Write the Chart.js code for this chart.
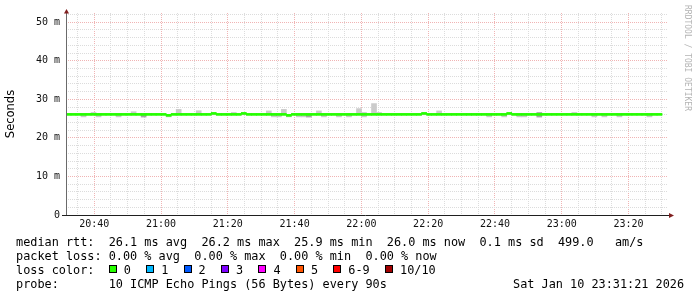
<!DOCTYPE html>
<html>
<head>
<meta charset="utf-8">
<script src="https://cdn.jsdelivr.net/npm/chart.js@4"></script>
<style>
  html, body { margin: 0; padding: 0; background: #fff; }
  #wrap { position: relative; width: 697px; height: 297px; overflow: hidden; }
  #chart { position: absolute; left: 0; top: 0; }
  #legend { position: absolute; left: 16px; top: 234.5px; width: 681px;
    font: 11.85px "DejaVu Sans Mono", monospace; line-height: 14px; color: #000; }
  .row { position: relative; height: 14px; display: flex; align-items: center; white-space: pre; }
  .box { display: inline-block; width: 6px; height: 6px; border: 1px solid #000; margin-right: 7px; position: relative; top: -1px; }
  .item { display: inline-flex; align-items: center; margin-right: 15.3px; }
  #date { position: absolute; left: 497px; top: 0; }
</style>
</head>
<body>
<div id="wrap">
  <canvas id="chart" width="697" height="297"></canvas>
  <div id="legend"><div class="row" id="rtt"></div><div class="row" id="loss"></div><div class="row" id="colors"></div><div class="row" id="probe"></div></div>
</div>
<script>
// time axis: 90 s steps from about 20:31:30, minutes since 20:00
const startMin = 31.53;
const stepMin = 1.5;
const spanMin = 180.3;

const timeMinutes = [40, 60, 80, 100, 120, 140, 160, 180, 200];
const timeLabels = ["20:40", "21:00", "21:20", "21:40", "22:00", "22:20", "22:40", "23:00", "23:20"];
const yValues = [0, 10, 20, 30, 40, 50];
const yLabels = ["0", "10 m", "20 m", "30 m", "40 m", "50 m"];

// median rtt per sample (ms)
const median = [
  26.1, 26.1, 26.1, 26.1, 26.1, 26.1, 26.1, 26.1, 26.1, 26.1,
  26.1, 26.1, 26.1, 26.1, 26.1, 26.1, 26.1, 26.1, 26.1, 26.1,
  25.85, 26.1, 26.1, 26.1, 26.1, 26.1, 26.1, 26.1, 26.1, 26.35,
  26.1, 26.1, 26.1, 26.1, 26.1, 26.35, 26.1, 26.1, 26.1, 26.1,
  26.1, 26.1, 26.1, 26.1, 25.85, 26.1, 26.1, 26.1, 26.1, 26.1,
  26.1, 26.1, 26.1, 26.1, 26.1, 26.1, 26.1, 26.1, 26.1, 26.1,
  26.1, 26.1, 26.1, 26.1, 26.1, 26.1, 26.1, 26.1, 26.1, 26.1,
  26.1, 26.35, 26.1, 26.1, 26.1, 26.1, 26.1, 26.1, 26.1, 26.1,
  26.1, 26.1, 26.1, 26.1, 26.1, 26.1, 26.1, 26.1, 26.35, 26.1,
  26.1, 26.1, 26.1, 26.1, 26.1, 26.1, 26.1, 26.1, 26.1, 26.1,
  26.1, 26.1, 26.1, 26.1, 26.1, 26.1, 26.1, 26.1, 26.1, 26.1,
  26.1, 26.1, 26.1, 26.1, 26.1, 26.1, 26.1, 26.1, 26.1
];
// smoke: fastest and slowest ping per sample (ms)
const smokeHi = [
  26.2, 26.2, 26.2, 26.2, 26.2, 26.6, 26.2, 26.2, 26.2, 26.2,
  26.2, 26.2, 26.2, 26.8, 26.2, 26.2, 26.2, 26.2, 26.2, 26.2,
  26.0, 26.2, 27.4, 26.2, 26.2, 26.2, 27.05, 26.2, 26.2, 26.5,
  26.2, 26.2, 26.2, 26.6, 26.2, 26.5, 26.2, 26.2, 26.2, 26.2,
  27.0, 26.2, 26.2, 27.4, 26.0, 26.2, 26.2, 26.2, 26.2, 26.2,
  27.0, 26.2, 26.2, 26.2, 26.2, 26.2, 26.2, 26.2, 27.6, 26.6,
  26.2, 28.9, 26.6, 26.2, 26.2, 26.2, 26.2, 26.2, 26.2, 26.2,
  26.2, 26.5, 26.2, 26.2, 27.0, 26.2, 26.2, 26.2, 26.2, 26.2,
  26.2, 26.2, 26.2, 26.2, 26.2, 26.2, 26.2, 26.2, 26.5, 26.2,
  26.2, 26.2, 26.2, 26.2, 26.6, 26.2, 26.2, 26.2, 26.2, 26.2,
  26.2, 26.6, 26.2, 26.2, 26.2, 26.2, 26.2, 26.2, 26.2, 26.2,
  26.2, 26.2, 26.2, 26.2, 26.2, 26.2, 26.2, 26.2, 26.2
];
const smokeLo = [
  26.0, 26.0, 26.0, 25.45, 26.0, 26.0, 25.45, 26.0, 26.0, 26.0,
  25.45, 26.0, 26.0, 26.0, 26.0, 25.4, 26.0, 26.0, 26.0, 26.0,
  25.45, 26.0, 26.0, 26.0, 26.0, 26.0, 26.0, 26.0, 26.0, 26.0,
  26.0, 26.0, 26.0, 26.0, 26.0, 26.0, 26.0, 26.0, 26.0, 26.0,
  26.0, 25.45, 25.45, 26.0, 25.45, 26.0, 25.45, 25.45, 25.4, 26.0,
  26.0, 25.45, 26.0, 26.0, 25.45, 26.0, 25.45, 26.0, 26.0, 25.45,
  26.0, 26.0, 26.0, 26.0, 26.0, 26.0, 26.0, 26.0, 26.0, 26.0,
  26.0, 26.0, 26.0, 26.0, 26.0, 26.0, 26.0, 26.0, 26.0, 26.0,
  26.0, 26.0, 26.0, 26.0, 25.45, 26.0, 26.0, 25.45, 26.0, 26.0,
  25.45, 25.45, 26.0, 26.0, 25.4, 26.0, 26.0, 26.0, 26.0, 26.0,
  26.0, 26.0, 26.0, 26.0, 26.0, 25.45, 26.0, 25.45, 26.0, 26.0,
  25.45, 26.0, 26.0, 26.0, 26.0, 26.0, 25.45, 26.0, 26.0
];
// samples where the smoke is denser (darker grey)
const denseSmoke = [15, 48, 94];

const lossLabels = ["0", "1", "2", "3", "4", "5", "6-9", "10/10"];
const lossColors = ["#26ff00", "#00b8ff", "#0059ff", "#7e00ff", "#ff00ff", "#ff5500", "#ff0000", "#a10000"];

const rttText = "median rtt:  26.1 ms avg  26.2 ms max  25.9 ms min  26.0 ms now  0.1 ms sd  499.0   am/s";
const lossText = "packet loss: 0.00 % avg  0.00 % max  0.00 % min  0.00 % now";
const probeText = "probe:       10 ICMP Echo Pings (56 Bytes) every 90s";
const dateText = "Sat Jan 10 23:31:21 2026";

const sampleX = median.map((_, i) => startMin + stepMin * (i + 0.5));
const gridMinutes = [];
for (let m = 35; m < startMin + spanMin; m += 5) gridMinutes.push(m);
const gridMs = [];
for (let v = 0; v <= 52; v += 2) gridMs.push(v);

const minorGrid = "#dcdcdc";
const majorGrid = "#f0b4b4";

const frame = {
  id: "frame",
  afterDraw(chart) {
    const { ctx, chartArea: a } = chart;
    ctx.save();
    ctx.lineWidth = 1;
    ctx.strokeStyle = "#6a6a6a";
    ctx.beginPath();
    ctx.moveTo(a.left + 0.5, a.bottom + 1);
    ctx.lineTo(a.left + 0.5, a.top - 1);
    ctx.stroke();
    ctx.strokeStyle = "#1f1f1f";
    ctx.beginPath();
    ctx.moveTo(a.left - 4, a.bottom + 0.5);
    ctx.lineTo(a.right + 1, a.bottom + 0.5);
    ctx.stroke();
    ctx.fillStyle = "#801f1f";
    ctx.beginPath();
    ctx.moveTo(a.left + 0.5, a.top - 4);
    ctx.lineTo(a.left + 3, a.top + 0.5);
    ctx.lineTo(a.left - 2, a.top + 0.5);
    ctx.closePath();
    ctx.fill();
    ctx.beginPath();
    ctx.moveTo(a.right + 6, a.bottom + 0.5);
    ctx.lineTo(a.right + 1, a.bottom + 3);
    ctx.lineTo(a.right + 1, a.bottom - 2);
    ctx.closePath();
    ctx.fill();
    // axis title
    ctx.fillStyle = "#000";
    ctx.font = '11.5px "DejaVu Sans"';
    ctx.textAlign = "center";
    ctx.textBaseline = "middle";
    ctx.translate(11.5, (a.top + a.bottom) / 2);
    ctx.rotate(-Math.PI / 2);
    ctx.fillText("Seconds", 0, 0);
    ctx.restore();
    // watermark
    ctx.save();
    ctx.fillStyle = "#b4b4b4";
    ctx.font = '8px "DejaVu Sans Mono"';
    ctx.textAlign = "left";
    ctx.textBaseline = "middle";
    ctx.translate(687, 5);
    ctx.rotate(Math.PI / 2);
    ctx.fillText("RRDTOOL / TOBI OETIKER", 0, 0);
    ctx.restore();
  },
};

Chart.defaults.font.family = '"DejaVu Sans Mono", monospace';

new Chart(document.getElementById("chart").getContext("2d"), {
  type: "bar",
  data: {
    datasets: [
      {
        label: "median",
        order: 0,
        data: median.map((m, i) => ({ x: sampleX[i], y: [m - 0.26, m + 0.26] })),
        backgroundColor: lossColors[0],
      },
      {
        label: "smoke",
        order: 1,
        data: smokeLo.map((lo, i) => ({ x: sampleX[i], y: [lo, smokeHi[i]] })),
        backgroundColor: (ctx) => (denseSmoke.includes(ctx.dataIndex) ? "#a6a6a6" : "#cbcbcb"),
      },
    ],
  },
  options: {
    responsive: false,
    animation: false,
    datasets: { bar: { grouped: false, barPercentage: 1, categoryPercentage: 1, borderWidth: 0 } },
    layout: { padding: { left: 0, right: 29, top: 13, bottom: 62 } },
    plugins: { legend: { display: false }, tooltip: { enabled: false } },
    scales: {
      x: {
        type: "linear",
        min: startMin,
        max: startMin + spanMin,
        offset: false,
        grid: {
          offset: false,
          drawTicks: false,
          lineWidth: 1,
          color: (ctx) => (ctx.tick && ctx.tick.value % 20 === 0 ? majorGrid : minorGrid),
        },
        border: { display: false, dash: [1, 1] },
        afterBuildTicks: (s) => { s.ticks = gridMinutes.map((v) => ({ value: v })); },
        afterFit: (s) => { s.height = 20; },
        ticks: {
          autoSkip: false,
          maxRotation: 0,
          padding: 3,
          color: "#111",
          font: { size: 10 },
          callback: (v) => {
            const k = timeMinutes.indexOf(v);
            return k < 0 ? "" : timeLabels[k];
          },
        },
      },
      y: {
        min: 0,
        max: 52.4,
        grid: {
          drawTicks: false,
          lineWidth: 1,
          color: (ctx) => (ctx.tick && ctx.tick.value % 10 === 0 ? majorGrid : minorGrid),
        },
        border: { display: false, dash: [1, 1] },
        afterBuildTicks: (s) => { s.ticks = gridMs.map((v) => ({ value: v })); },
        afterFit: (s) => { s.width = 66; },
        ticks: {
          autoSkip: false,
          padding: 6,
          color: "#111",
          font: { size: 10 },
          callback: (v) => {
            const k = yValues.indexOf(v);
            return k < 0 ? "" : yLabels[k];
          },
        },
      },
    },
  },
  plugins: [frame],
});

document.getElementById("rtt").textContent = rttText;
document.getElementById("loss").textContent = lossText;
const colorsRow = document.getElementById("colors");
colorsRow.appendChild(document.createTextNode("loss color:  "));
lossLabels.forEach((lab, i) => {
  const item = document.createElement("span");
  item.className = "item";
  const box = document.createElement("span");
  box.className = "box";
  box.style.background = lossColors[i];
  item.appendChild(box);
  item.appendChild(document.createTextNode(lab));
  colorsRow.appendChild(item);
});
const probeRow = document.getElementById("probe");
probeRow.textContent = probeText;
const date = document.createElement("span");
date.id = "date";
date.textContent = dateText;
probeRow.appendChild(date);
</script>
</body>
</html>
